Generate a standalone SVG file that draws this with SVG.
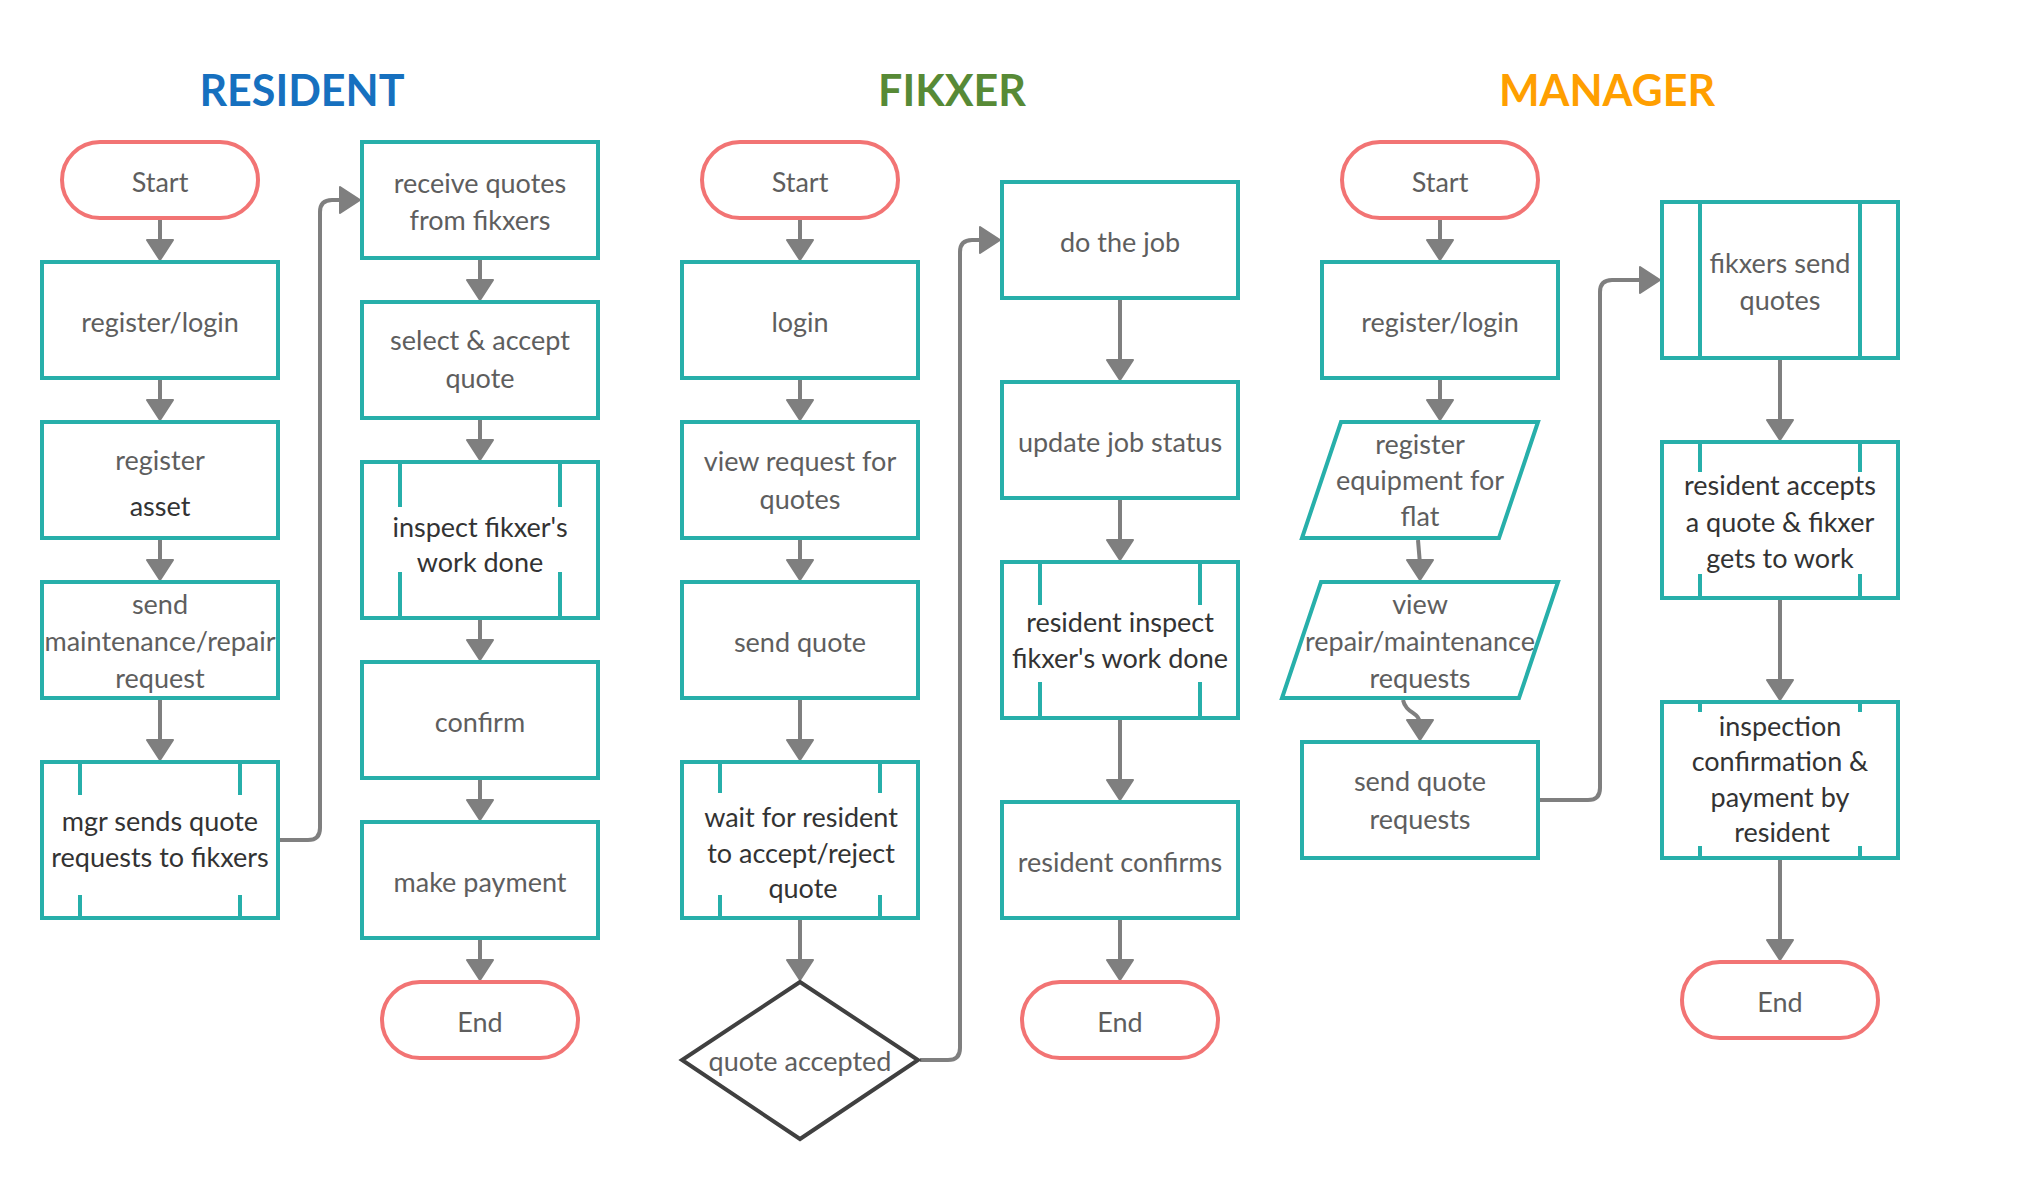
<svg xmlns="http://www.w3.org/2000/svg" width="2020" height="1180" viewBox="0 0 2020 1180">
<style>
.box{fill:#fff;stroke:#27AFAA;stroke-width:4}
.term{fill:#fff;stroke:#F27474;stroke-width:4}
.dec{fill:#fff;stroke:#404040;stroke-width:4;stroke-linejoin:miter}
.tick{stroke:#27AFAA;stroke-width:4}
.t{font-family:Lato,"Open Sans","Liberation Sans",sans-serif;font-size:27px;text-anchor:middle;fill:#5e5e5e}
.d{fill:#333}
.title{font-family:Lato,"Open Sans","Liberation Sans",sans-serif;font-size:43px;font-weight:bold;text-anchor:middle}
.conn{fill:none;stroke:#7f7f7f;stroke-width:4;marker-end:url(#ah)}
</style>
<defs>
<marker id="ah" viewBox="0 0 23 28" markerWidth="23" markerHeight="28" markerUnits="userSpaceOnUse" refX="11" refY="14" orient="auto">
<path d="M1,1 L21,14 L1,27 Z" fill="#7f7f7f" stroke="#7f7f7f" stroke-width="2" stroke-linejoin="round"/>
</marker>
</defs>
<rect width="2020" height="1180" fill="#fff"/>
<g id="titles">
<text class="title" x="302" y="106" fill="#1670BF">RESIDENT</text>
<text class="title" x="952" y="106" fill="#578A36">FIKXER</text>
<text class="title" x="1607" y="106" fill="#FF9F00">MANAGER</text>
</g>
<g id="connectors">
<path class="conn" d="M160 220 V250"/>
<path class="conn" d="M160 380 V410"/>
<path class="conn" d="M160 540 V570"/>
<path class="conn" d="M160 700 V750"/>
<path class="conn" d="M480 260 V290"/>
<path class="conn" d="M480 420 V450"/>
<path class="conn" d="M480 620 V650"/>
<path class="conn" d="M480 780 V810"/>
<path class="conn" d="M480 940 V970"/>
<path class="conn" d="M800 220 V250"/>
<path class="conn" d="M800 380 V410"/>
<path class="conn" d="M800 540 V570"/>
<path class="conn" d="M800 700 V750"/>
<path class="conn" d="M800 920 V970"/>
<path class="conn" d="M1120 300 V370"/>
<path class="conn" d="M1120 500 V550"/>
<path class="conn" d="M1120 720 V790"/>
<path class="conn" d="M1120 920 V970"/>
<path class="conn" d="M1440 220 V250"/>
<path class="conn" d="M1440 380 V410"/>
<path class="conn" d="M1418 540 L1420 564 V570"/>
<path class="conn" d="M1403 700 C1406 714 1420 712 1420 724 V730"/>
<path class="conn" d="M1780 360 V430"/>
<path class="conn" d="M1780 600 V690"/>
<path class="conn" d="M1780 860 V950"/>
<path class="conn" d="M280 840 H308 Q320 840 320 828 V212 Q320 200 332 200 H350"/>
<path class="conn" d="M920 1060 H948 Q960 1060 960 1048 V252 Q960 240 972 240 H990"/>
<path class="conn" d="M1540 800 H1588 Q1600 800 1600 788 V292 Q1600 280 1612 280 H1650"/>
</g>
<g id="a_start"><rect class="term" x="62" y="142" width="196" height="76" rx="38"/><text class="t" x="160" y="192">Start</text></g>
<g id="a_reg"><rect class="box" x="42" y="262" width="236" height="116"/><text class="t" x="160" y="332">register/login</text></g>
<g id="a_asset"><rect class="box" x="42" y="422" width="236" height="116"/><text class="t" x="160" y="470">register</text><text class="t d" x="160" y="516">asset</text></g>
<g id="a_send"><rect class="box" x="42" y="582" width="236" height="116"/><text class="t" x="160" y="614">send</text><text class="t" x="160" y="651">maintenance/repair</text><text class="t" x="160" y="688">request</text></g>
<g id="a_mgr"><rect class="box" x="42" y="762" width="236" height="156"/><line class="tick" x1="80" y1="762" x2="80" y2="795"/><line class="tick" x1="240" y1="762" x2="240" y2="795"/><line class="tick" x1="80" y1="895" x2="80" y2="918"/><line class="tick" x1="240" y1="895" x2="240" y2="918"/><text class="t d" x="160" y="831">mgr sends quote</text><text class="t d" x="160" y="867">requests to fikxers</text></g>
<g id="b_recv"><rect class="box" x="362" y="142" width="236" height="116"/><text class="t" x="480" y="192.5">receive quotes</text><text class="t" x="480" y="229.5">from fikxers</text></g>
<g id="b_select"><rect class="box" x="362" y="302" width="236" height="116"/><text class="t" x="480" y="350">select &amp; accept</text><text class="t" x="480" y="388">quote</text></g>
<g id="b_inspect"><rect class="box" x="362" y="462" width="236" height="156"/><line class="tick" x1="400" y1="462" x2="400" y2="507"/><line class="tick" x1="560" y1="462" x2="560" y2="507"/><line class="tick" x1="400" y1="572" x2="400" y2="618"/><line class="tick" x1="560" y1="572" x2="560" y2="618"/><text class="t d" x="480" y="537">inspect fikxer's</text><text class="t d" x="480" y="572">work done</text></g>
<g id="b_confirm"><rect class="box" x="362" y="662" width="236" height="116"/><text class="t" x="480" y="732">confirm</text></g>
<g id="b_pay"><rect class="box" x="362" y="822" width="236" height="116"/><text class="t" x="480" y="892">make payment</text></g>
<g id="b_end"><rect class="term" x="382" y="982" width="196" height="76" rx="38"/><text class="t" x="480" y="1032">End</text></g>
<g id="c_start"><rect class="term" x="702" y="142" width="196" height="76" rx="38"/><text class="t" x="800" y="192">Start</text></g>
<g id="c_login"><rect class="box" x="682" y="262" width="236" height="116"/><text class="t" x="800" y="332">login</text></g>
<g id="c_view"><rect class="box" x="682" y="422" width="236" height="116"/><text class="t" x="800" y="471">view request for</text><text class="t" x="800" y="509">quotes</text></g>
<g id="c_send"><rect class="box" x="682" y="582" width="236" height="116"/><text class="t" x="800" y="652">send quote</text></g>
<g id="c_wait"><rect class="box" x="682" y="762" width="236" height="156"/><line class="tick" x1="720" y1="762" x2="720" y2="793"/><line class="tick" x1="880" y1="762" x2="880" y2="793"/><line class="tick" x1="720" y1="895" x2="720" y2="918"/><line class="tick" x1="880" y1="895" x2="880" y2="918"/><text class="t d" x="801" y="827">wait for resident</text><text class="t d" x="801" y="863">to accept/reject</text><text class="t d" x="803" y="898">quote</text></g>
<g id="c_dec"><polygon class="dec" points="800,982 918,1060 800,1139 682,1060"/><text class="t" x="800" y="1071">quote accepted</text></g>
<g id="d_job"><rect class="box" x="1002" y="182" width="236" height="116"/><text class="t" x="1120" y="252">do the job</text></g>
<g id="d_update"><rect class="box" x="1002" y="382" width="236" height="116"/><text class="t" x="1120" y="452">update job status</text></g>
<g id="d_inspect"><rect class="box" x="1002" y="562" width="236" height="156"/><line class="tick" x1="1040" y1="562" x2="1040" y2="605"/><line class="tick" x1="1200" y1="562" x2="1200" y2="605"/><line class="tick" x1="1040" y1="682" x2="1040" y2="718"/><line class="tick" x1="1200" y1="682" x2="1200" y2="718"/><text class="t d" x="1120" y="632">resident inspect</text><text class="t d" x="1120" y="668">fikxer's work done</text></g>
<g id="d_confirms"><rect class="box" x="1002" y="802" width="236" height="116"/><text class="t" x="1120" y="872">resident confirms</text></g>
<g id="d_end"><rect class="term" x="1022" y="982" width="196" height="76" rx="38"/><text class="t" x="1120" y="1032">End</text></g>
<g id="e_start"><rect class="term" x="1342" y="142" width="196" height="76" rx="38"/><text class="t" x="1440" y="192">Start</text></g>
<g id="e_reg"><rect class="box" x="1322" y="262" width="236" height="116"/><text class="t" x="1440" y="332">register/login</text></g>
<g id="e_equip"><polygon class="box" points="1341,422 1538,422 1499,538 1302,538"/><text class="t" x="1420" y="454">register</text><text class="t" x="1420" y="490">equipment for</text><text class="t" x="1420" y="526">flat</text></g>
<g id="e_view"><polygon class="box" points="1321,582 1558,582 1519,698 1282,698"/><text class="t" x="1420" y="614">view</text><text class="t" x="1420" y="651">repair/maintenance</text><text class="t" x="1420" y="688">requests</text></g>
<g id="e_sendreq"><rect class="box" x="1302" y="742" width="236" height="116"/><text class="t" x="1420" y="791">send quote</text><text class="t" x="1420" y="829">requests</text></g>
<g id="f_quotes"><rect class="box" x="1662" y="202" width="236" height="156"/><line class="tick" x1="1700" y1="202" x2="1700" y2="358"/><line class="tick" x1="1860" y1="202" x2="1860" y2="358"/><text class="t" x="1780" y="272.5">fikxers send</text><text class="t" x="1780" y="310">quotes</text></g>
<g id="f_accept"><rect class="box" x="1662" y="442" width="236" height="156"/><line class="tick" x1="1700" y1="442" x2="1700" y2="472"/><line class="tick" x1="1860" y1="442" x2="1860" y2="472"/><line class="tick" x1="1700" y1="574" x2="1700" y2="598"/><line class="tick" x1="1860" y1="574" x2="1860" y2="598"/><text class="t d" x="1780" y="495">resident accepts</text><text class="t d" x="1780" y="532">a quote &amp; fikxer</text><text class="t d" x="1780" y="568">gets to work</text></g>
<g id="f_insp"><rect class="box" x="1662" y="702" width="236" height="156"/><line class="tick" x1="1700" y1="702" x2="1700" y2="712"/><line class="tick" x1="1860" y1="702" x2="1860" y2="712"/><line class="tick" x1="1700" y1="846" x2="1700" y2="858"/><line class="tick" x1="1860" y1="846" x2="1860" y2="858"/><text class="t d" x="1780" y="735.5">inspection</text><text class="t d" x="1780" y="771">confirmation &amp;</text><text class="t d" x="1780" y="806.5">payment by</text><text class="t d" x="1782" y="842">resident</text></g>
<g id="f_end"><rect class="term" x="1682" y="962" width="196" height="76" rx="38"/><text class="t" x="1780" y="1012">End</text></g>
</svg>
